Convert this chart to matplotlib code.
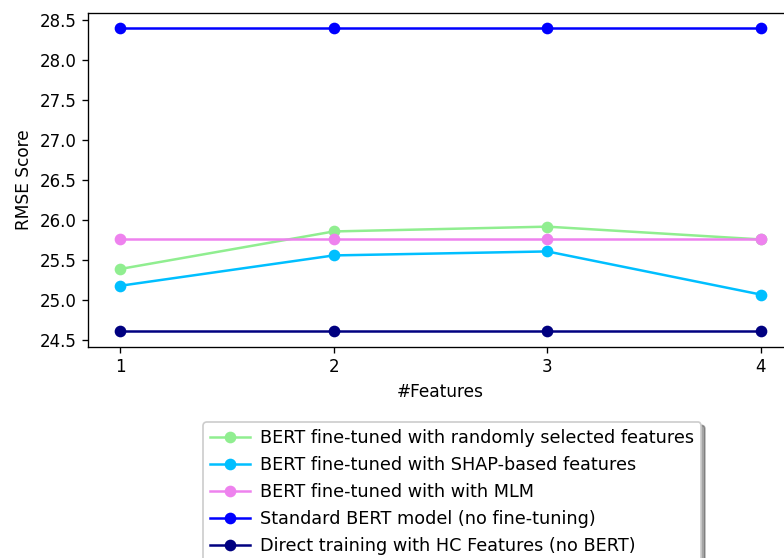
import matplotlib
matplotlib.use("Agg")
import matplotlib.pyplot as plt

features = [1, 2, 3, 4]
random_feats = [25.39, 25.86, 25.92, 25.76]
shap_feats = [25.18, 25.56, 25.61, 25.07]
mlm = [25.76, 25.76, 25.76, 25.76]
standard_bert = [28.4, 28.4, 28.4, 28.4]
direct_hc = [24.61, 24.61, 24.61, 24.61]

labels = [
    "BERT fine-tuned with randomly selected features",
    "BERT fine-tuned with SHAP-based features",
    "BERT fine-tuned with with MLM",
    "Standard BERT model (no fine-tuning)",
    "Direct training with HC Features (no BERT)",
]
colors = ["lightgreen", "deepskyblue", "violet", "blue", "navy"]
series = [random_feats, shap_feats, mlm, standard_bert, direct_hc]

fig = plt.figure(figsize=(784 / 120, 558 / 120), dpi=120)
ax = fig.add_axes([88 / 784, 1 - 346.5 / 558, (793 - 88) / 784, (346.5 - 13.3) / 558])

for vals, lab, col in zip(series, labels, colors):
    ax.plot(features, vals, marker="o", color=col, label=lab)

ax.set_xticks(features)
ax.set_xlabel("#Features", fontsize=10.2)
ax.set_ylabel("RMSE Score", fontsize=10.2)

fig.legend(loc="upper left", bbox_to_anchor=(203 / 784, 1 - 422 / 558),
           bbox_transform=fig.transFigure, borderaxespad=0, shadow=True,
           fontsize=10.6, labelspacing=0.51, handlelength=2.25, handletextpad=0.6)

fig.savefig("out.png", dpi=120)
